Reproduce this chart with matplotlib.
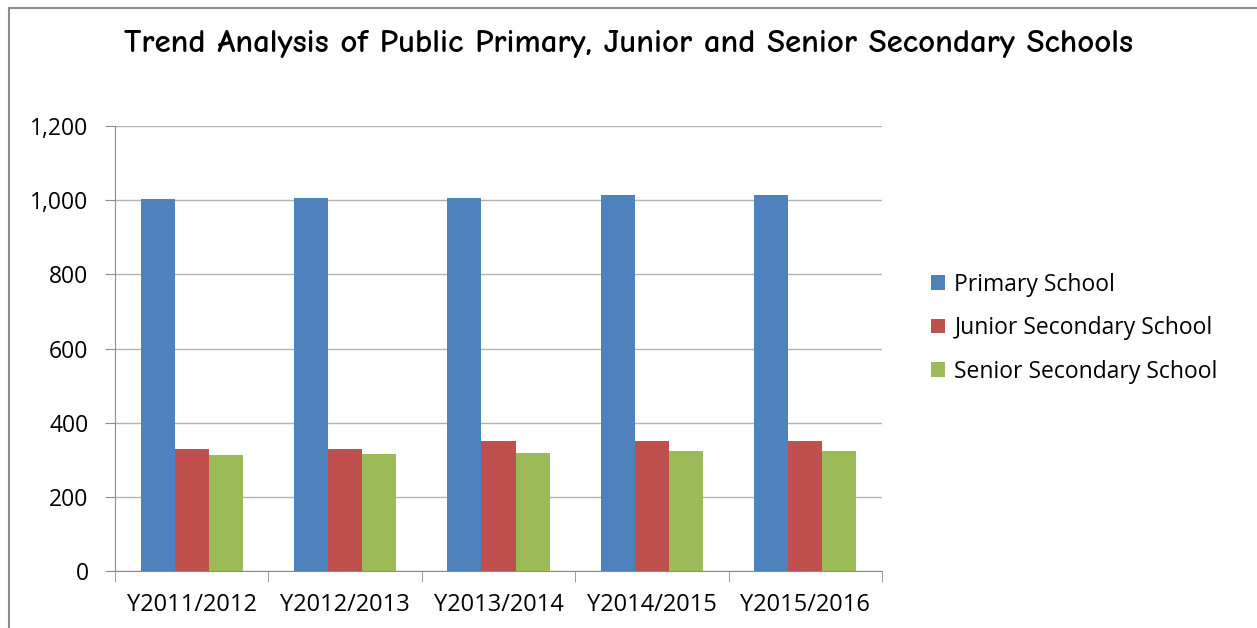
import numpy as np
import matplotlib.pyplot as plt
from matplotlib.patches import Rectangle

years = ['Y2011/2012', 'Y2012/2013', 'Y2013/2014', 'Y2014/2015', 'Y2015/2016']
primary = [1002, 1006, 1006, 1013, 1013]
junior = [329, 329, 350, 350, 350]
senior = [313, 315, 319, 323, 323]

series = [('Primary School', primary, '#4f81bd'),
          ('Junior Secondary School', junior, '#c0504d'),
          ('Senior Secondary School', senior, '#9bbb59')]

plt.rcParams['font.family'] = ['Open Sans', 'DejaVu Sans']

fig = plt.figure(figsize=(12.57, 6.28), dpi=100)
# plot area in pixels: x 115..882, y 126..571 (from top)
ax = fig.add_axes([115/1257, 1 - 571/628, 767/1257, 445/628])

x = np.arange(len(years))
w = 0.222
for i, (name, vals, col) in enumerate(series):
    ax.bar(x + (i - 1) * w, vals, width=w, color=col, label=name, zorder=3)

ax.set_xlim(-0.5, len(years) - 0.5)
ax.set_ylim(0, 1200)
ax.set_yticks(range(0, 1201, 200))
ax.set_yticklabels([f'{v:,}' for v in range(0, 1201, 200)])
ax.yaxis.grid(True, color='#b3b3b3', linewidth=1, zorder=0)
ax.set_axisbelow(True)

ax.set_xticks(x)
ax.set_xticklabels(years)
ax.set_xticks(np.arange(-0.5, len(years)), minor=True)
ax.tick_params(axis='x', which='major', length=0, labelsize=17, pad=16)
ax.tick_params(axis='x', which='minor', length=8, color='#8c8c8c')
ax.tick_params(axis='y', length=7, color='#8c8c8c', labelsize=16.5, pad=12)

for s in ['top', 'right']:
    ax.spines[s].set_visible(False)
for s in ['left', 'bottom']:
    ax.spines[s].set_color('#8c8c8c')

ax.legend(loc='center left', bbox_to_anchor=(1.037, 0.546), frameon=False,
          fontsize=16.5, handlelength=0.62, handleheight=0.62,
          handletextpad=0.4, labelspacing=0.85)

fig.text(0.5, 1 - 44/628, 'Trend Analysis of Public Primary, Junior and Senior Secondary Schools',
         ha='center', va='center', fontsize=23.7, fontweight='bold',
         family=['Comic Neue', 'DejaVu Sans'])

# outer chart border
fig.patches.append(Rectangle((9/1257, -0.05), 1.2, 1 - 8/628 + 0.05,
                             transform=fig.transFigure, fill=False,
                             edgecolor='#8c8c8c', linewidth=1.5))

fig.savefig('out.png', dpi=100)
